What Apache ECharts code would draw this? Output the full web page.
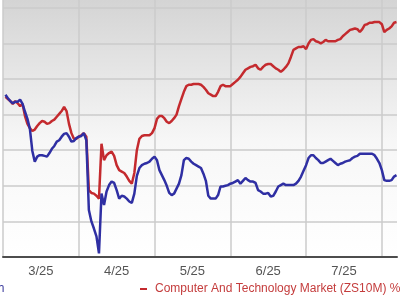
<!DOCTYPE html>
<html><head><meta charset="utf-8">
<script src="https://cdn.jsdelivr.net/npm/echarts@6/dist/echarts.min.js"></script>
<style>html,body{margin:0;padding:0;background:#fff}#c{width:400px;height:300px}</style>
</head><body><div id="c"></div>
<script>
// Month tick labels (centered in each month)
const monthLabels = ['3/25', '4/25', '5/25', '6/25', '7/25'];
// Consecutive calendar days from this date, one per value below
const firstDate = '2025-03-02';
const stockName = 'Tech';
const marketName = 'Computer And Technology Market (ZS10M) % Change';

// % change, stock (blue)
const stockChange = [
  -2.2,-2.7,-3.1,-3.4,-3.2,-3.2,-2.9,-3.5,-4.6,-5.6,-7.0,-10.1,-11.6,-10.9,-10.7,-10.7,-10.8,-10.9,-10.4,-9.8,-9.4,-8.8,-8.6,-8.1,-7.7,-7.6,-8.1,-8.8,-8.7,-8.3,
  -8.1,-8.0,-7.6,-8.6,-18.4,-20.0,-21.0,-22.1,-24.5,-16.1,-17.7,-15.8,-14.9,-14.4,-14.6,-15.6,-16.8,-16.4,-16.5,-16.8,-17.2,-17.4,-16.1,-13.6,-12.5,-12.1,-11.9,-11.8,-11.6,-11.2,
  -10.9,-11.4,-12.8,-13.5,-14.2,-15.0,-16.0,-16.3,-16.1,-15.4,-14.7,-13.5,-11.4,-11.1,-11.2,-11.6,-11.9,-12.1,-12.3,-12.5,-13.3,-14.3,-16.4,-16.8,-16.8,-16.8,-16.3,-15.1,-15.1,-15.0,-14.9,
  -14.7,-14.6,-14.4,-14.2,-14.7,-14.3,-13.9,-14.2,-14.4,-14.4,-14.6,-15.6,-15.8,-16.1,-16.1,-16.0,-16.5,-16.4,-15.8,-15.1,-14.9,-14.7,-14.9,-14.9,-14.9,-14.9,-14.7,-14.3,-13.7,-12.9,
  -12.1,-11.1,-10.7,-10.7,-11.1,-11.4,-11.8,-11.8,-11.6,-11.4,-11.2,-11.5,-11.8,-12.1,-11.9,-11.8,-11.6,-11.5,-11.4,-11.1,-10.9,-10.8,-10.5,-10.5,-10.5,-10.5,-10.5,-10.5,-10.7,-11.2,-11.8,
  -12.8,-14.2,-14.3,-14.3,-14.2,-13.7,-13.5
];
// % change, Computer And Technology market (red)
const marketChange = [
  -2.5,-2.8,-3.1,-3.5,-3.1,-3.4,-3.8,-3.5,-5.2,-6.3,-6.9,-7.3,-7.1,-6.6,-6.2,-5.9,-6.0,-6.3,-6.2,-5.9,-5.7,-5.3,-4.9,-4.5,-3.9,-4.5,-6.3,-7.6,-8.4,-8.4,
  -8.1,-7.9,-7.6,-8.1,-15.6,-16.0,-16.1,-16.4,-16.8,-9.1,-11.4,-10.7,-10.4,-10.2,-10.8,-12.1,-12.8,-13.0,-13.2,-13.7,-14.3,-14.7,-13.2,-10.0,-8.4,-8.0,-7.9,-7.9,-7.9,-7.6,
  -6.9,-5.6,-5.2,-5.2,-5.5,-6.0,-6.2,-5.9,-5.5,-5.0,-3.8,-2.8,-1.8,-1.0,-0.8,-0.8,-0.7,-0.7,-0.7,-0.8,-1.1,-1.5,-2.0,-2.2,-2.4,-2.4,-1.8,-1.0,-0.8,-1.0,-1.0,
  -1.0,-0.7,-0.4,-0.1,0.3,0.8,1.3,1.5,1.7,1.8,2.0,1.5,1.3,1.7,2.0,2.1,2.1,1.8,1.5,1.3,1.0,1.3,1.7,2.2,3.1,4.1,4.3,4.5,4.5,4.6,
  4.2,5.0,5.5,5.6,5.3,5.2,5.0,5.2,5.5,5.3,5.3,5.3,5.3,5.5,5.6,6.0,6.3,6.6,6.9,7.0,7.1,7.0,6.6,7.0,7.6,7.7,7.9,7.9,8.0,8.0,8.0,
  7.7,6.6,6.9,7.1,7.4,7.9,8.0
];

// Build the date list and convert each date to a month-based position (month + fraction)
const dates = [];
const d0 = new Date(firstDate + 'T00:00:00Z');
for (let i = 0; i < stockChange.length; i++) {
  dates.push(new Date(d0.getTime() + i * 86400000));
}
function monthPos(d) {
  const m = d.getUTCMonth() + 1;
  const dim = new Date(Date.UTC(d.getUTCFullYear(), m, 0)).getUTCDate();
  return m + (d.getUTCDate() - 1) / dim;
}
const xs = dates.map(monthPos);
const stockData = xs.map((x, i) => [x, stockChange[i]]);
const marketData = xs.map((x, i) => [x, marketChange[i]]);

const chart = echarts.init(document.getElementById('c'), null, {renderer: 'canvas'});
chart.setOption({
  animation: false,
  backgroundColor: '#ffffff',
  textStyle: {fontFamily: 'Liberation Sans, Arial, sans-serif'},
  grid: {
    left: -3, right: -2.6, top: 0, bottom: 43,
    show: true, borderWidth: 0,
    backgroundColor: new echarts.graphic.LinearGradient(0, 0, 0, 1, [
      {offset: 0, color: '#d4d4d4'},
      {offset: 0.55, color: '#f7f7f7'},
      {offset: 1, color: '#ffffff'}
    ])
  },
  xAxis: [{
    type: 'value', min: 3, max: 8.2, interval: 1,
    axisLine: {show: true, onZero: false, lineStyle: {color: '#4d4d4d', width: 2}},
    axisTick: {show: false},
    axisLabel: {show: false},
    splitLine: {show: true, showMaxLine: false, lineStyle: {color: '#cbcbcb', width: 1.5}}
  }, {
    type: 'value', min: 3, max: 8.2, interval: 0.5, position: 'bottom',
    axisLine: {show: false, onZero: false}, axisTick: {show: false}, splitLine: {show: false},
    axisLabel: {
      show: true, color: '#555555', fontSize: 13, margin: 8,
      formatter: function (v) {
        const f = v - Math.floor(v);
        if (Math.abs(f - 0.5) < 0.01) {
          const idx = Math.floor(v) - 3;
          return monthLabels[idx] || '';
        }
        return '';
      }
    }
  }],
  yAxis: {
    type: 'value', min: -25, max: 11.1, interval: 5,
    axisLine: {show: false}, axisTick: {show: false}, axisLabel: {show: false},
    splitLine: {show: true, showMaxLine: false, showMinLine: false, lineStyle: {color: '#cbcbcb', width: 1.5}}
  },
  legend: [{
    data: [{name: stockName, icon: 'rect'}],
    left: -33, top: 283, padding: 0, itemWidth: 7, itemHeight: 2, itemGap: 10,
    textStyle: {color: '#3d3d9e', fontSize: 12}
  }, {
    data: [{name: marketName, icon: 'rect'}],
    left: 140, top: 283, padding: 0, itemWidth: 7, itemHeight: 2, itemGap: 10,
    textStyle: {color: '#c43c3c', fontSize: 12, padding: [0, 0, 0, 3]}
  }],
  series: [{
    name: marketName, type: 'line', data: marketData, xAxisIndex: 0,
    showSymbol: false, symbol: 'none',
    lineStyle: {color: '#c42a2e', width: 2.5}, itemStyle: {color: '#c42a2e'}
  }, {
    name: stockName, type: 'line', data: stockData, xAxisIndex: 0,
    showSymbol: false, symbol: 'none',
    lineStyle: {color: '#2f2fa3', width: 2.5}, itemStyle: {color: '#2f2fa3'}
  }]
});
</script>
</body></html>
